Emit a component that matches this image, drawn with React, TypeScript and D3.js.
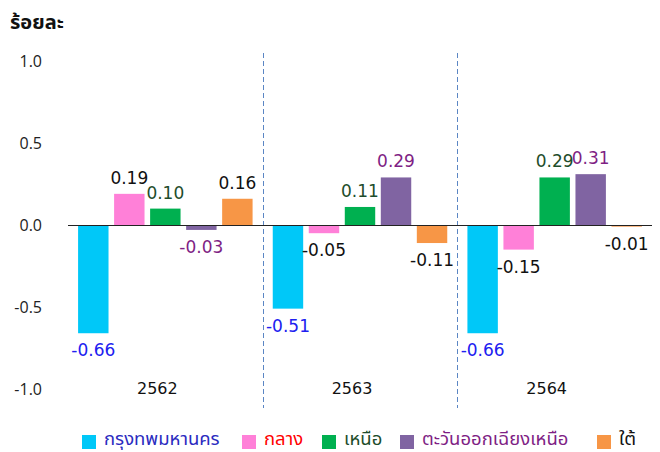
import React from "react";
import * as d3 from "d3";

const years = ["2562", "2563", "2564"];
const regions = ["กรุงทพมหานคร", "กลาง", "เหนือ", "ตะวันออกเฉียงเหนือ", "ใต้"];
const bangkok = [-0.66, -0.51, -0.66];
const central = [0.19, -0.05, -0.15];
const north = [0.1, 0.11, 0.29];
const northeast = [-0.03, 0.29, 0.31];
const south = [0.16, -0.11, -0.01];
const yTicks = [1.0, 0.5, 0.0, -0.5, -1.0];

const seriesValues = [bangkok, central, north, northeast, south];
const barColors = ["#00C8F8", "#FF80D8", "#00B050", "#8064A2", "#F79646"];
const labelColors = ["#2020F0", "#111111", "#1E4D2B", "#7F1F85", "#111111"];
const legendColors = ["#2B2BC0", "#FF0000", "#1E4D2B", "#7F1F85", "#111111"];

const W = 660;
const H = 452;
const plotLeft = 68;
const plotRight = 652;
const thaiFont = "Tahoma, 'Noto Sans Thai', 'Leelawadee UI', 'DejaVu Sans', sans-serif";
const numFont = "'DejaVu Sans', Verdana, sans-serif";
const axisFont = "'Open Sans', 'Noto Sans', sans-serif";

const fmt = (f: string) => (v: number) => d3.format(f)(v).replace("\u2212", "-");
const fmt1 = fmt(".1f");
const fmt2 = fmt(".2f");

export default function App() {
  const y = d3.scaleLinear().domain([-1, 1]).range([389, 61]);
  const x0 = d3.scaleBand().domain(years).range([plotLeft, plotRight]).padding(0);
  const x1 = d3
    .scaleBand()
    .domain(regions)
    .range([0, x0.bandwidth()])
    .paddingInner(0.155)
    .paddingOuter(0.28);

  const legendX = [82, 242, 322, 400, 597];

  return (
    <svg
      width={W}
      height={H}
      style={{ position: "absolute", left: 0, top: 0, background: "#fff" }}
    >
      <text x={10} y={29} fontFamily={thaiFont} fontSize={20} fontWeight="bold" fill="#111">
        ร้อยละ
      </text>
      {yTicks.map((t) => (
        <text
          key={t}
          x={42}
          y={y(t)}
          dy="0.35em"
          textAnchor="end"
          fontFamily={axisFont}
          fontSize={16}
          fill="#222"
        >
          {fmt1(t)}
        </text>
      ))}
      {years.slice(1).map((yr) => (
        <line
          key={yr}
          x1={Math.round(x0(yr)!) + 0.5}
          x2={Math.round(x0(yr)!) + 0.5}
          y1={53}
          y2={408}
          stroke="#5B86C4"
          strokeWidth={1}
          strokeDasharray="5,3"
        />
      ))}
      {years.map((yr, gi) => (
        <g key={yr} transform={`translate(${x0(yr)},0)`}>
          {regions.map((r, si) => {
            const v = seriesValues[si][gi];
            const bx = x1(r)!;
            const top = v >= 0 ? y(v) : y(0);
            const h = Math.abs(y(v) - y(0));
            const cx = bx + x1.bandwidth() / 2;
            return (
              <g key={r}>
                <rect x={bx} y={top} width={x1.bandwidth()} height={h} fill={barColors[si]} />
                <text
                  x={cx}
                  y={v >= 0 ? y(v) - 10 : y(v) + 23}
                  textAnchor="middle"
                  fontFamily={numFont}
                  fontSize={17}
                  fill={labelColors[si]}
                >
                  {fmt2(v)}
                </text>
              </g>
            );
          })}
          <text
            x={x0.bandwidth() / 2 - 8}
            y={394}
            textAnchor="middle"
            fontFamily={numFont}
            fontSize={16}
            fill="#111"
          >
            {yr}
          </text>
        </g>
      ))}
      <line x1={plotLeft} x2={plotRight} y1={y(0) + 0.5} y2={y(0) + 0.5} stroke="#222" strokeWidth={1} />
      {regions.map((r, i) => (
        <g key={r} transform={`translate(${legendX[i]},0)`}>
          <rect x={0} y={435} width={14} height={14} fill={barColors[i]} />
          <text x={22} y={445} fontFamily={thaiFont} fontSize={18.5} fill={legendColors[i]}>
            {r}
          </text>
        </g>
      ))}
    </svg>
  );
}
